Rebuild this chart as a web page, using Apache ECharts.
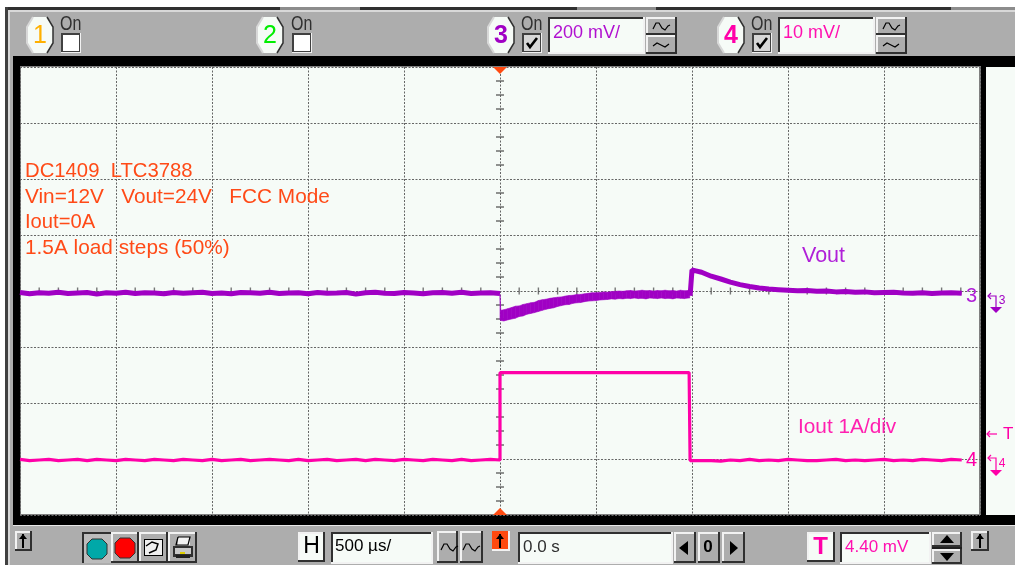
<!DOCTYPE html>
<html><head><meta charset="utf-8">
<style>html,body{margin:0;padding:0;background:#fff}#c{width:1015px;height:565px}</style>
<script src="https://cdn.jsdelivr.net/npm/echarts@6/dist/echarts.min.js"></script>
</head><body><div id="c"></div>
<script>
// ---- data ----
const sampleStepUs = 50;
const voutPreMv = [2,-3,1,-1,3,-2,0,2,-4,1,-1,3,-2,1,0,-3,2,-1,1,3,-2,0,-3,2,1,-1,3,-2,0,1,-3,2,-1,0,2,-4,1,3,-1,-2,2,0,-3,1,2,-1,3,-2,0,1,-2];
const voutStepTimeUs = [0,4,20,40,60,80,100,120,140,160,180,200,220,240,260,280,300,320,340,360,380,400,420,440,460,480,500,520,540,560,580,600,620,640,660,680,700,720,740,760,780,800,820,840,860,880,900,920,940,960,980,988];
const voutStepHighMv = [-5,-62,-60,-56,-52,-47,-46,-41,-38,-35,-33,-27,-24,-22,-19,-17,-15,-14,-11,-9,-8,-5,-5,-3,-1,1,1,2,4,3,5,6,7,6,8,9,7,8,10,8,9,7,9,8,10,8,9,7,10,8,9,8];
const voutStepLowMv = [-95,-98,-100,-96,-93,-90,-84,-82,-76,-73,-70,-66,-62,-58,-55,-53,-48,-45,-42,-41,-37,-35,-34,-31,-29,-28,-27,-25,-24,-23,-21,-22,-20,-21,-19,-20,-18,-20,-19,-21,-18,-19,-20,-18,-20,-19,-21,-18,-19,-20,-18,-18];
const voutPostTimeUs = [990,1000,1020,1050,1100,1150,1200,1250,1300,1350,1400,1450,1500,1550,1600,1650,1700,1750,1800,1850,1900,1950,2000,2050,2100,2150,2200,2250,2300,2350,2405];
const voutPostMv = [-10,82,79,74,60,50,39,30,23,18,14,12,10,8,9,6,7,4,5,3,4,1,2,3,0,-1,1,-2,0,1,-1];
const ioutPreA = [0.01,-0.01,0,0.01,-0.01,0,0.01,-0.01,0.01,0,-0.01,0.01,0,-0.01,0.01,0,-0.01,0.01,0,-0.01,0.01,-0.01,0,0.01,-0.01,0,0.01,0,-0.01,0.01,-0.01,0,0.01,-0.01,0,0.01,-0.01,0.01,0,-0.01,0.01,0,-0.01,0.01,0,-0.01,0.01,-0.01,0,0.01,0];
const ioutHighTimeUs = [0,50,60,70,100,110,120,160,170,180,200,250,320,340,370,500,600,700,720,800,828,832,836,860,870,880,900,985];
const ioutHighA = [1.56,1.56,1.58,1.56,1.56,1.58,1.56,1.56,1.58,1.56,1.56,1.56,1.56,1.56,1.56,1.56,1.56,1.56,1.56,1.56,1.56,1.53,1.56,1.56,1.53,1.56,1.56,1.56];
const ioutPostTimeUs = [990,1050,1100,1150,1200,1250,1300,1350,1400,1450,1500,1550,1600,1650,1700,1750,1800,1850,1900,1950,2000,2050,2100,2150,2200,2250,2300,2350,2405];
const ioutPostA = [-0.01,-0.01,-0.01,-0.02,0,-0.01,0.01,-0.01,0,-0.01,0.01,0,-0.01,-0.01,0,0.01,-0.01,0,-0.01,0,0.01,-0.01,0,-0.01,0.01,0,-0.01,0.01,0];
const trigger = { xMinUs: -2500, xMaxUs: 2500, divUs: 500 };
const vPerDivMv = 200, iPerDivA = 1;
const ch3OffsetDiv = -2/56, ch4OffsetDiv = -169/56;

const COL_V = '#a000c4', COL_I = '#ff00a8', COL_NOTE = '#ff4a17', BG = '#f6fbf7', GR = '#adadad';
const vDiv = m => m/vPerDivMv + ch3OffsetDiv;
const iDiv = a => a/iPerDivA + ch4OffsetDiv;
const preTimes = voutPreMv.map((_,i)=> -2500 + i*sampleStepUs);

// centre graticule ticks
const xTicks=[]; for(let t=-2500;t<=2500;t+=100){ if(t%500) xTicks.push([t,0]); }
const yTicks=[]; for(let d=-4;d<=4;d+=0.25){ if(d%1) yTicks.push([0,d]); }

// ---- instrument window chrome ----
const g=[];
const r=(x,y,w,h,c)=>g.push({type:'rect',shape:{x,y,width:w,height:h},style:{fill:c},silent:true});
const t=(x,y,s,c,size,o={})=>g.push({type:'text',z:20,x,y,silent:true,style:Object.assign({text:s,fill:c,font:(o.weight||'normal')+' '+size+'px "Liberation Sans"',textAlign:o.align||'left',textVerticalAlign:'middle'},o.style||{}),scaleX:o.sx||1});
const poly=(pts,c,w)=>g.push({type:'polyline',z:20,shape:{points:pts},style:{stroke:c,lineWidth:w||1,fill:null},silent:true});
const tri=(pts,c)=>g.push({type:'polygon',z:20,shape:{points:pts},style:{fill:c},silent:true});
const btn=(x,y,w,h,f)=>{r(x,y,w,h,'#303030');r(x,y,w-2,h-2,'#f2f2f2');r(x+2,y+2,w-4,h-4,f||GR);};
const box=(x,y,w,h)=>{r(x,y,w,h,'#f2f2f2');r(x,y,w-2,h-2,'#303030');r(x+2,y+2,w-4,h-4,BG);};
const badge=(cx,n,c,b)=>{const a=[[cx-7,17],[cx+7,17],[cx+13,27],[cx+13,43],[cx+7,53],[cx-7,53],[cx-13,43],[cx-13,27]];
  tri(a,'#f6fbf7');poly([a[0],a[7],a[6],a[5]],'#d8d8d8',2);poly([a[1],a[2],a[3],a[4]],'#303030',1.5);
  t(cx,36,n,c,25,{align:'center',weight:b?'bold':'normal'});};
const on=(x,chk)=>{t(x,24,'On','#303030',20,{sx:0.8});
  r(x+1,33,20,20,'#f2f2f2');r(x+1,33,19,19,'#404040');r(x+3,35,16,16,chk?'#d8d8d8':'#ffffff');
  if(chk)poly([[x+6,43],[x+9,47],[x+16,38]],'#000',2.6);};
const wave=(x,y,c)=>poly([[x,y+3],[x+3,y-3],[x+6,y-3],[x+9,y+2],[x+12,y+4],[x+15,y],[x+17,y-1]],c||'#000',1.2);
const tilde=(x,y)=>poly([[x,y+1],[x+4,y-2],[x+8,y],[x+12,y+2],[x+16,y-1]],'#000',1.2);
const upArrow=(x,ya,yb,c)=>{poly([[x,ya],[x,yb]],c||'#000',2);tri([[x-4,ya+5],[x+4,ya+5],[x,ya]],c||'#000');};

r(0,0,1015,565,GR);
r(0,0,1015,7,'#ffffff'); r(0,0,5,565,'#ffffff');
r(5,7,275,3,'#303030'); r(280,7,80,3,'#8c8c8c'); r(360,7,217,3,'#303030'); r(577,7,79,3,'#8c8c8c'); r(656,7,295,3,'#303030'); r(951,7,64,3,'#8c8c8c');
r(5,7,3,558,'#404040'); r(8,10,1007,2,'#d8d8d8'); r(8,10,2,555,'#d8d8d8');
// black surround of the screen
r(13,56,1002,11,'#000'); r(13,56,7,470,'#000'); r(13,515,1002,10,'#000'); r(981,56,5,470,'#000');
r(21,67,958,447,BG);
r(979,67,2,448,'#808080'); r(20,66,961,1,'#808080'); r(20,514,961,1,'#808080'); r(20,67,1,448,'#808080');
r(986,67,29,448,BG); r(13,525,1002,1,'#e8e8e8');
// top controls
badge(40,'1','#ffb000'); on(60,false);
badge(270,'2','#00ee00'); on(291,false);
badge(501,'3',COL_V,true); on(521,true);
box(548,17,97,37); t(553,33,'200 mV/','#b010d0',18);
btn(646,17,31,18); btn(646,35,31,19); wave(653,26); tilde(653,45);
badge(731,'4',COL_I,true); on(751,true);
box(778,17,97,37); t(783,33,'10 mV/','#ff10b0',18);
btn(876,17,31,18); btn(876,35,31,19); wave(883,26); tilde(883,45);
// bottom controls
btn(15,531,17,20); upArrow(23,534,548);
r(82,532,29,31,'#303030'); r(84,534,27,29,'#bcbcbc');
const oct=(cx,cy,c)=>{const a=[[cx-5,cy-10],[cx+5,cy-10],[cx+10,cy-5],[cx+10,cy+5],[cx+5,cy+10],[cx-5,cy+10],[cx-10,cy+5],[cx-10,cy-5]];tri(a,c);poly(a.concat([a[0]]),'#303030',1);};
oct(97,549,'#00a8a8');
btn(111,532,28,31); oct(125,548,'#ff0000');
btn(139,532,29,31); r(144,539,19,17,'#fff'); r(145,540,17,15,'#f0f0f0'); poly([[146,546],[152,542],[158,544],[156,550],[149,553]],'#000',1.5); r(144,539,19,1,'#000'); r(144,555,19,1,'#000'); r(162,539,1,17,'#000'); r(144,539,1,17,'#000');
btn(168,532,29,31); r(173,546,20,11,'#303030'); r(175,548,16,6,'#c8c8c8'); r(178,537,12,8,'#f2f2f2'); poly([[178,537],[190,537],[188,545],[176,545],[178,537]],'#000',1.2); r(180,552,5,2,'#e0d000'); r(176,555,14,3,'#202020');
btn(298,532,27,30,'#f6fbf7'); t(311.5,547,'H','#000',23,{align:'center'});
box(331,532,102,32); t(335,546,'500 µs/','#000',17);
btn(437,531,21,32); btn(460,531,23,32); wave(441,547); wave(463,547);
r(492,531,18,20,'#f2f2f2'); r(492,531,16,18,'#ff4a10'); upArrow(500,534,548);
box(518,532,155,32); t(523,547,'0.0 s','#303030',17);
btn(674,532,22,31); tri([[679,548],[688,541],[688,555]],'#000');
btn(698,532,22,31); t(708,547,'0','#000',17,{align:'center',weight:'bold'});
btn(722,532,23,31); tri([[738,548],[730,541],[730,555]],'#000');
btn(807,532,28,30,'#f6fbf7'); t(820.5,547,'T',COL_I,24,{align:'center',weight:'bold'});
box(840,532,91,32); t(845,547,'4.40 mV','#ff10b0',17);
btn(932,532,30,15); btn(932,549,30,15); r(932,547,30,2,'#202020'); tri([[947,535],[940,543],[954,543]],'#000'); tri([[947,561],[940,553],[954,553]],'#000');
btn(971,531,18,20); upArrow(980,534,548);
// trigger markers
tri([[493,67],[507,67],[500,74]],'#ff4a10'); tri([[493,515],[507,515],[500,508]],'#ff4a10');
// on-screen notes
t(25,171,'DC1409  LTC3788',COL_NOTE,20.3);
t(25,197,'Vin=12V   Vout=24V   FCC Mode',COL_NOTE,20.8);
t(25,222,'Iout=0A',COL_NOTE,20.2);
t(25,248,'1.5A load steps (50%)',COL_NOTE,20.8);
t(802,256,'Vout','#b020d8',21.5);
t(798,427,'Iout 1A/div','#ff20b0',20.8);
t(966,296,'3','#b020d8',20); t(966,460,'4',COL_I,20);
// channel markers right of the screen
poly([[988,296],[996,296],[996,308]],COL_V,1.2); poly([[991,293],[988,296],[991,299]],COL_V,1.2); tri([[990,307],[1002,307],[996,313]],COL_V); t(1002,301,'3',COL_V,12,{align:'center'});
poly([[988,458],[996,458],[996,471]],COL_I,1.2); poly([[991,455],[988,458],[991,461]],COL_I,1.2); tri([[990,470],[1002,470],[996,476]],COL_I); t(1002,464,'4',COL_I,12,{align:'center'});
poly([[987,434],[997,434]],COL_I,1.2); poly([[990,431],[987,434],[990,437]],COL_I,1.2); t(1003,434,'T',COL_I,17);

// ---- chart ----
const chart=echarts.init(document.getElementById('c'),null,{renderer:'canvas',width:1015,height:565});
const pair=(ts,vs,f)=>ts.map((x,i)=>[x,f(vs[i])]);
chart.setOption({
  animation:false,
  grid:{left:20,top:67,width:960,height:448,show:true,backgroundColor:BG,borderWidth:0},
  xAxis:{type:'value',min:trigger.xMinUs,max:trigger.xMaxUs,interval:trigger.divUs,
    axisLine:{show:false},axisTick:{show:false},axisLabel:{show:false},
    splitLine:{show:true,lineStyle:{color:'#666',width:1,type:[2,1.5]}}},
  yAxis:{type:'value',min:-4,max:4,interval:1,
    axisLine:{show:false},axisTick:{show:false},axisLabel:{show:false},
    splitLine:{show:true,lineStyle:{color:'#666',width:1,type:[2,1.5]}}},
  graphic:{elements:g},
  series:[
    {name:'x ticks',type:'scatter',symbol:'rect',symbolSize:[1.4,7],data:xTicks,itemStyle:{color:'#555'},silent:true,z:1},
    {name:'y ticks',type:'scatter',symbol:'rect',symbolSize:[8,1.6],data:yTicks,itemStyle:{color:'#555'},silent:true,z:1},
    {name:'Vout before step',type:'line',showSymbol:false,lineStyle:{color:COL_V,width:5},data:pair(preTimes,voutPreMv,vDiv),silent:true},
    {name:'Vout during step',type:'custom',silent:true,data:voutStepTimeUs.map((x,i)=>[x,vDiv(voutStepLowMv[i]),vDiv(voutStepHighMv[i])]),
      encode:{x:0,y:[1,2]},
      renderItem(p,api){
        const i=p.dataIndex, j=i+1;
        if(j>=voutStepTimeUs.length) return null;
        const a=api.coord([api.value(0),api.value(1)]),b=api.coord([api.value(0),api.value(2)]);
        const c=api.coord([voutStepTimeUs[j],vDiv(voutStepHighMv[j])]),d=api.coord([voutStepTimeUs[j],vDiv(voutStepLowMv[j])]);
        return {type:'polygon',shape:{points:[a,b,c,d]},style:{fill:COL_V,stroke:COL_V,lineWidth:0.6}};
      }},
    {name:'Vout after step',type:'line',showSymbol:false,lineStyle:{color:COL_V,width:5},data:pair(voutPostTimeUs,voutPostMv,vDiv),silent:true},
    {name:'Iout',type:'line',showSymbol:false,lineStyle:{color:COL_I,width:3.2},silent:true,
      data:pair(preTimes,ioutPreA,iDiv).concat(pair(ioutHighTimeUs,ioutHighA,iDiv),pair(ioutPostTimeUs,ioutPostA,iDiv))}
  ]
});
</script></body></html>
